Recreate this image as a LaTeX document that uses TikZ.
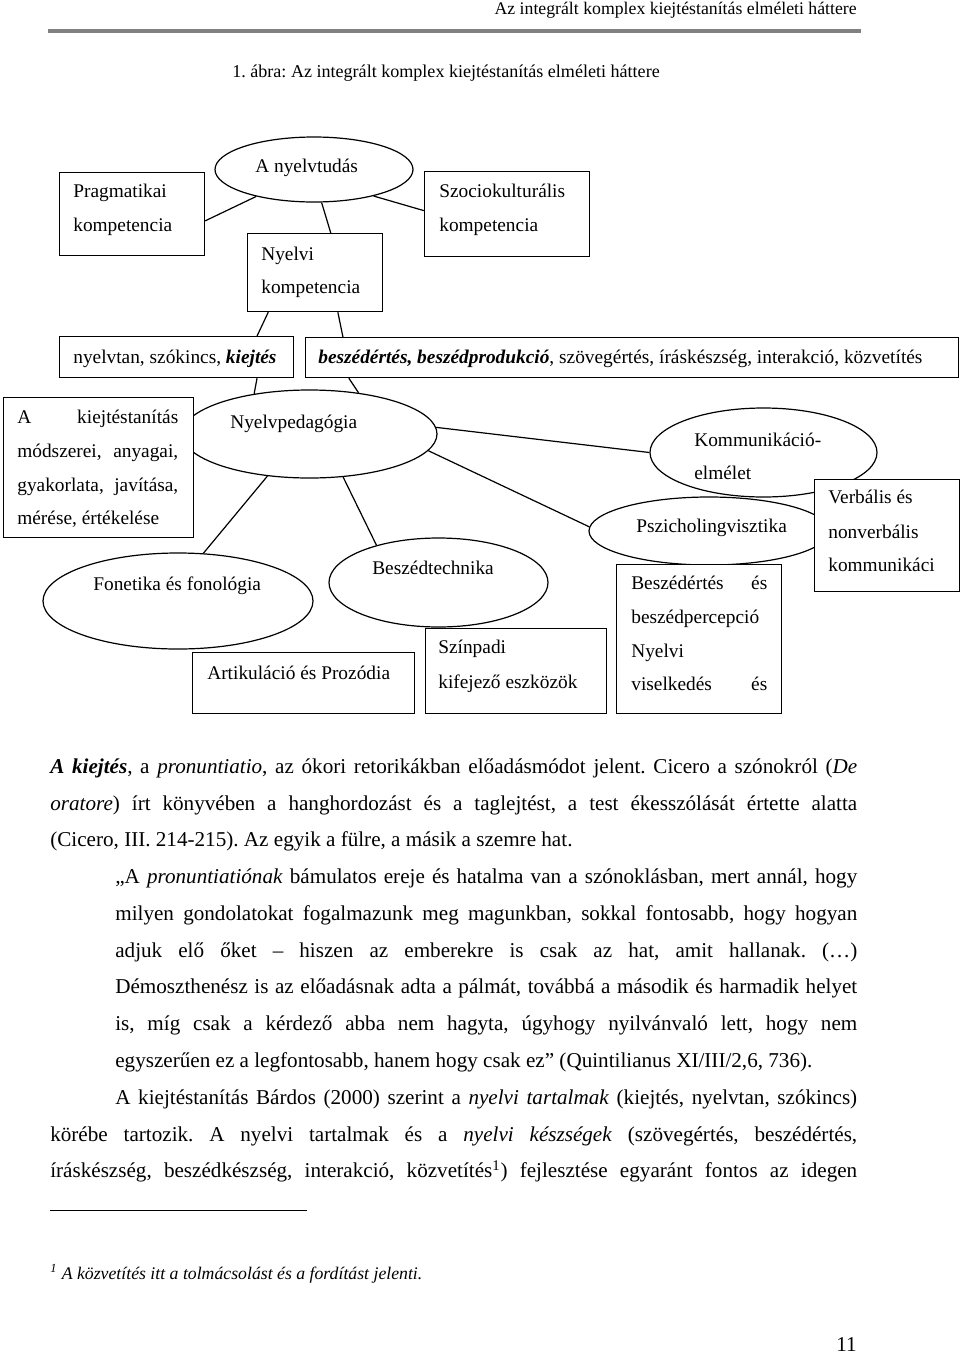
\documentclass[tikz,border=0pt]{standalone}
\usepackage{fontspec}
\setmainfont{Liberation Serif}
\usetikzlibrary{shapes.geometric,calc}
\frenchspacing
\newcommand\fsz{\fontsize{12pt}{14pt}\selectfont}
\newcommand\fbd{\fontsize{13.1pt}{15pt}\selectfont\frenchspacing}
\newcommand\fsm{\fontsize{11pt}{13pt}\selectfont\frenchspacing}
\def\U{0.62pt}
\begin{document}
\begin{tikzpicture}[x=0.62pt,y=-0.62pt,
  bx/.style={draw,line width=0.75pt,fill=white,inner sep=0pt,anchor=north west},
  el/.style={draw,ellipse,line width=0.75pt,inner sep=0pt},
  tx/.style={anchor=base west,inner sep=0pt,font=\fsz},
  bd/.style={anchor=base west,inner sep=0pt,font=\fbd},
  ln/.style={line width=0.75pt}]
\useasboundingbox (0,0) rectangle (960,1353);

% header
\node[anchor=base east,inner sep=0pt,font=\fsm] (hdr) at (857,14) {Az integrált komplex kiejtéstanítás elméleti háttere};
\draw[line width=2pt,black!50] (48,31) -- (861,31);
\node[anchor=base west,inner sep=0pt,font=\fontsize{11.2pt}{13pt}\selectfont\frenchspacing] (cap) at (232,77) {1. ábra: Az integrált komplex kiejtéstanítás elméleti háttere};

% ellipses
\node[el,minimum width=198*\U,minimum height=65*\U] (nyt) at (314,169.5) {};
\node[el,minimum width=255*\U,minimum height=88*\U] (np) at (309.5,434) {};
\node[el,minimum width=270*\U,minimum height=96*\U] (fon) at (178,601) {};
\node[el,minimum width=219*\U,minimum height=89*\U] (bt) at (438.5,582.5) {};
\node[el,minimum width=227*\U,minimum height=89*\U] (kom) at (763.5,452.5) {};
\node[el,minimum width=240*\U,minimum height=68*\U] (psz) at (709,531) {};

% boxes
\node[bx,minimum width=145*\U,minimum height=83*\U] (prag) at (59,172) {};
\node[bx,minimum width=165*\U,minimum height=85*\U] (szoc) at (424,171) {};
\node[bx,minimum width=135*\U,minimum height=78*\U] (nyk) at (247,233) {};
\node[bx,minimum width=234*\U,minimum height=41*\U] (lb) at (59,336) {};
\node[bx,minimum width=653*\U,minimum height=40*\U] (rb) at (305,337) {};
\node[bx,minimum width=190*\U,minimum height=140*\U] (kb) at (3,397) {};
\node[bx,minimum width=222*\U,minimum height=61*\U] (art) at (192,652) {};
\node[bx,minimum width=181*\U,minimum height=85*\U] (szin) at (425,628) {};
\node[bx,minimum width=165*\U,minimum height=149*\U] (besz) at (616,564) {};
\node[bx,minimum width=145*\U,minimum height=112*\U] (verb) at (814,479) {};

% connectors
\draw[ln] ($(prag.north east)!0.58!(prag.south east)$) -- (nyt.205);
\draw[ln] (nyt.283) -- ($(nyk.north west)!0.615!(nyk.north east)$);
\draw[ln] (nyt.336) -- ($(szoc.north west)!0.46!(szoc.south west)$);
\draw[ln] ($(nyk.south west)!0.156!(nyk.south east)$) -- ($(lb.north west)!0.842!(lb.north east)$);
\draw[ln] ($(nyk.south west)!0.667!(nyk.south east)$) -- ($(rb.north west)!0.058!(rb.north east)$);
\draw[ln] ($(lb.south west)!0.842!(lb.south east)$) -- (np.144);
\draw[ln] ($(rb.south west)!0.067!(rb.south east)$) -- (np.40);
\draw[ln] (np.225) -- (fon.62);
\draw[ln] (np.308) -- (bt.149);
\draw[ln] (np.3) -- (kom.west);
\draw[ln] (np.352) -- (psz.178);

% diagram texts
\node[tx] (t1) at (255,172) {A nyelvtudás};
\node[tx] (t2) at (73,197) {Pragmatikai};
\node[tx] (t3) at (73,231) {kompetencia};
\node[tx] (t4) at (439,197) {Szociokulturális};
\node[tx] (t5) at (439,231) {kompetencia};
\node[tx] (t6) at (261,260) {Nyelvi};
\node[tx] (t7) at (261,293) {kompetencia};
\node[tx] (t8) at (73,363) {nyelvtan, szókincs, \textbf{\textit{kiejtés}}};
\node[tx] (t9) at (318,363) {\textbf{\textit{beszédértés, beszédprodukció}}, szövegértés, íráskészség, interakció, közvetítés};
\node[tx] (t10) at (17,423) {\makebox[99.8pt][s]{A kiejtéstanítás}};
\node[tx] (t11) at (17,457) {\makebox[99.8pt][s]{módszerei, anyagai,}};
\node[tx] (t12) at (17,491) {\makebox[99.8pt][s]{gyakorlata, javítása,}};
\node[tx] (t13) at (17,524) {mérése, értékelése};
\node[tx] (t14) at (230,428) {Nyelvpedagógia};
\node[tx] (t15) at (93,590) {Fonetika és fonológia};
\node[tx] (t16) at (372,574) {Beszédtechnika};
\node[tx] (t17) at (207,679) {Artikuláció és Prozódia};
\node[tx] (t18) at (438,653) {Színpadi};
\node[tx] (t19) at (438,688) {kifejező eszközök};
\node[tx] (t20) at (694,446) {Kommunikáció-};
\node[tx] (t21) at (694,479) {elmélet};
\node[tx] (t22) at (636,532) {Pszicholingvisztika};
\node[tx] (t23) at (631,589) {\makebox[84.3pt][s]{Beszédértés és}};
\node[tx] (t24) at (631,623) {beszédpercepció};
\node[tx] (t25) at (631,657) {Nyelvi};
\node[tx] (t26) at (631,690) {\makebox[84.3pt][s]{viselkedés és}};
\node[tx] (t27) at (828,503) {Verbális és};
\node[tx] (t28) at (828,538) {nonverbális};
\node[tx] (t29) at (828,571) {kommunikáci};

% body text
\node[bd] (b1) at (50,773) {\makebox[500.3pt][s]{\textbf{\textit{A kiejtés}}, a \textit{pronuntiatio}, az ókori retorikákban előadásmódot jelent. Cicero a szónokról (\textit{De}}};
\node[bd] (b2) at (50,810) {\makebox[500.3pt][s]{\textit{oratore}) írt könyvében a hanghordozást és a taglejtést, a test ékesszólását értette alatta}};
\node[bd] (b3) at (50,846.6) {(Cicero, III. 214-215). Az egyik a fülre, a másik a szemre hat.};
\node[bd] (b4) at (115,883.4) {\makebox[460pt][s]{„A \textit{pronuntiatiónak} bámulatos ereje és hatalma van a szónoklásban, mert annál, hogy}};
\node[bd] (b5) at (115,920.2) {\makebox[460pt][s]{milyen gondolatokat fogalmazunk meg magunkban, sokkal fontosabb, hogy hogyan}};
\node[bd] (b6) at (115,957) {\makebox[460pt][s]{adjuk elő őket – hiszen az emberekre is csak az hat, amit hallanak. (…)}};
\node[bd] (b7) at (115,993.8) {\makebox[460pt][s]{Démoszthenész is az előadásnak adta a pálmát, továbbá a második és harmadik helyet}};
\node[bd] (b8) at (115,1030.6) {\makebox[460pt][s]{is, míg csak a kérdező abba nem hagyta, úgyhogy nyilvánvaló lett, hogy nem}};
\node[bd] (b9) at (115,1067.4) {egyszerűen ez a legfontosabb, hanem hogy csak ez” (Quintilianus XI/III/2,6, 736).};
\node[bd] (b10) at (115,1104.2) {\makebox[460pt][s]{A kiejtéstanítás Bárdos (2000) szerint a \textit{nyelvi tartalmak} (kiejtés, nyelvtan, szókincs)}};
\node[bd] (b11) at (50,1141) {\makebox[500.3pt][s]{körébe tartozik. A nyelvi tartalmak és a \textit{nyelvi készségek} (szövegértés, beszédértés,}};
\node[bd] (b12) at (50,1177.8) {\makebox[500.3pt][s]{íráskészség, beszédkészség, interakció, közvetítés\textsuperscript{1}) fejlesztése egyaránt fontos az idegen}};

% footnote
\draw[line width=0.6pt] (50,1210) -- (307,1210);
\node[anchor=base west,inner sep=0pt,font=\fsm\itshape] (fn) at (50,1279) {\textsuperscript{1} A közvetítés itt a tolmácsolást és a fordítást jelenti.};
\node[anchor=base east,inner sep=0pt,font=\fbd] (pg) at (857,1351) {11};
\end{tikzpicture}
\end{document}
